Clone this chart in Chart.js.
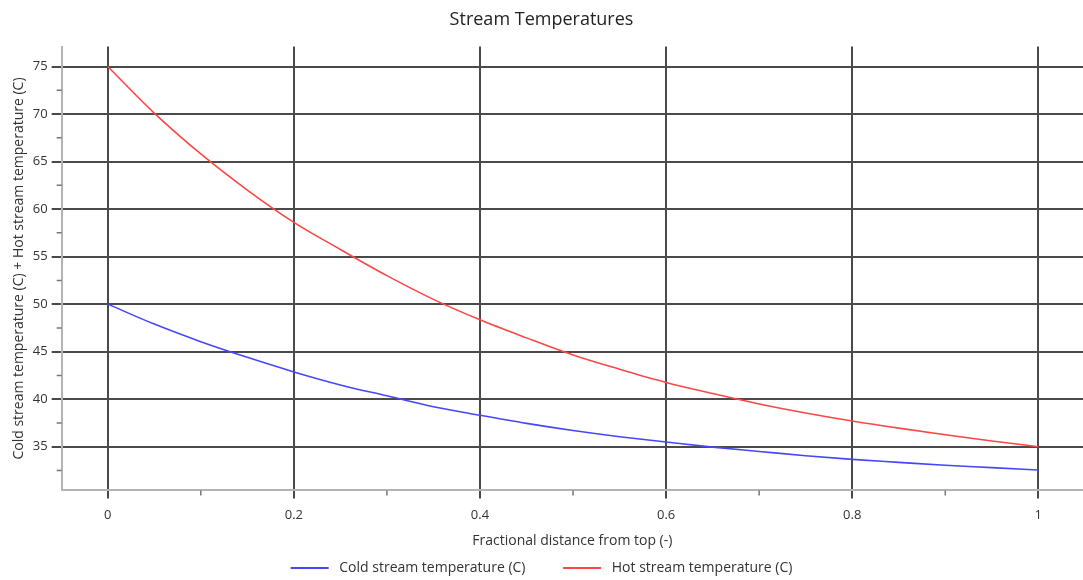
<!DOCTYPE html>
<html>
<head>
<meta charset="utf-8">
<script src="https://cdn.jsdelivr.net/npm/chart.js@4"></script>
<style>
  body { margin: 0; background: #fff; overflow: hidden; }
  #wrap { width: 1083px; height: 580px; }
  canvas { display: block; }
</style>
</head>
<body>
<div id="wrap"><canvas id="grafico"></canvas></div>
<script>
// posiciones (fracción desde arriba) y temperaturas
const fracPos = [0, 0.05, 0.1, 0.15, 0.2, 0.25, 0.3, 0.35, 0.4, 0.45, 0.5,
                 0.55, 0.6, 0.65, 0.7, 0.75, 0.8, 0.85, 0.9, 0.95, 1];
const coldTemp = [50, 47.9, 46.05, 44.4, 42.87, 41.5, 40.35, 39.2, 38.3, 37.45, 36.7,
                  36.05, 35.49, 34.95, 34.5, 34.05, 33.66, 33.35, 33.05, 32.8, 32.54];
const hotTemp = [75, 70.1, 65.8, 62.0, 58.6, 55.75, 53.0, 50.5, 48.35, 46.45, 44.65,
                 43.15, 41.76, 40.59, 39.5, 38.55, 37.7, 36.95, 36.25, 35.6, 35];

const seriesNames = ['Cold stream temperature (C)', 'Hot stream temperature (C)'];
const xMajorTicks = [0, 0.2, 0.4, 0.6, 0.8, 1];
const xMinorTicks = [0.1, 0.3, 0.5, 0.7, 0.9];
const yMajorTicks = [35, 40, 45, 50, 55, 60, 65, 70, 75];
const yMinorTicks = [32.5, 37.5, 42.5, 47.5, 52.5, 57.5, 62.5, 67.5, 72.5];

const FUENTE = "'Open Sans', 'Noto Sans', sans-serif";
const gridOscuro = '#4a4a4a';
const ejeClaro = '#b4b4b4';

function esMayor(lista, v) {
  return lista.some(t => Math.abs(t - v) < 1e-6);
}

// marcas menores (cortas) sobre los ejes
const marcasMenores = {
  id: 'marcasMenores',
  afterDraw(chart) {
    const c = chart.ctx;
    const sx = chart.scales.x, sy = chart.scales.y;
    c.save();
    c.strokeStyle = '#777';
    c.lineWidth = 1.5;
    c.beginPath();
    xMinorTicks.forEach(v => {
      const px = sx.getPixelForValue(v);
      c.moveTo(px, sx.top);
      c.lineTo(px, sx.top + 5);
    });
    yMinorTicks.forEach(v => {
      const py = sy.getPixelForValue(v);
      c.moveTo(sy.right - 5, py);
      c.lineTo(sy.right, py);
    });
    c.stroke();
    c.restore();
  }
};

const ctx = document.getElementById('grafico').getContext('2d');
new Chart(ctx, {
  type: 'line',
  data: {
    datasets: [{
      label: seriesNames[0],
      data: fracPos.map((x, i) => ({ x: x, y: coldTemp[i] })),
      borderColor: 'rgb(70,70,255)',
      backgroundColor: 'rgb(70,70,255)',
      borderWidth: 1.6,
      pointRadius: 0,
      cubicInterpolationMode: 'monotone'
    }, {
      label: seriesNames[1],
      data: fracPos.map((x, i) => ({ x: x, y: hotTemp[i] })),
      borderColor: 'rgb(255,70,70)',
      backgroundColor: 'rgb(255,70,70)',
      borderWidth: 1.6,
      pointRadius: 0,
      cubicInterpolationMode: 'monotone'
    }]
  },
  options: {
    responsive: true,
    maintainAspectRatio: false,
    animation: false,
    layout: { padding: { left: 0, right: 0, top: 0, bottom: -5 } },
    plugins: {
      title: {
        display: true,
        text: 'Stream Temperatures',
        color: '#222',
        font: { family: FUENTE, size: 18, weight: 'normal' },
        padding: { top: 9, bottom: 16 }
      },
      legend: {
        position: 'bottom',
        labels: {
          color: '#333',
          font: { family: FUENTE, size: 14 },
          boxWidth: 38,
          boxHeight: 2,
          padding: 6,
          generateLabels(chart) {
            // espacios para separar muestra, texto y elementos como en el original
            return Chart.defaults.plugins.legend.labels.generateLabels(chart)
              .map((l, i) => Object.assign(l, {
                lineWidth: 0,
                text: ' ' + l.text + (i === 0 ? '\u2003\u2003 ' : '')
              }));
          }
        }
      },
      tooltip: { enabled: false }
    },
    scales: {
      x: {
        type: 'linear',
        min: -0.0495,
        max: 1.048,
        afterBuildTicks(scale) {
          scale.ticks = [scale.min, ...xMajorTicks, scale.max].map(v => ({ value: v }));
        },
        ticks: {
          color: '#333',
          font: { family: FUENTE, size: 13, lineHeight: 2.6 },
          padding: 0,
          autoSkip: false,
          maxRotation: 0,
          callback: v => esMayor(xMajorTicks, v) ? String(Math.round(v * 10) / 10) : ''
        },
        grid: {
          color: c => esMayor(xMajorTicks, c.tick.value) ? gridOscuro : 'transparent',
          tickColor: c => esMayor(xMajorTicks, c.tick.value) ? gridOscuro : 'transparent',
          lineWidth: 2,
          tickLength: 8
        },
        border: { display: true, color: ejeClaro, width: 2 },
        title: {
          display: true,
          text: 'Fractional distance from top (-)',
          color: '#333',
          font: { family: FUENTE, size: 14 },
          padding: { top: 0, bottom: 6 }
        }
      },
      y: {
        type: 'linear',
        min: 30.4,
        max: 77.1,
        afterBuildTicks(scale) {
          scale.ticks = [scale.min, ...yMajorTicks, scale.max].map(v => ({ value: v }));
        },
        ticks: {
          color: '#333',
          font: { family: FUENTE, size: 13 },
          padding: 4,
          autoSkip: false,
          callback: v => esMayor(yMajorTicks, v) ? String(v) : ''
        },
        grid: {
          color: c => esMayor(yMajorTicks, c.tick.value) ? gridOscuro : 'transparent',
          tickColor: c => esMayor(yMajorTicks, c.tick.value) ? gridOscuro : 'transparent',
          lineWidth: 2,
          tickLength: 10
        },
        border: { display: true, color: ejeClaro, width: 2 },
        title: {
          display: true,
          text: 'Cold stream temperature (C) + Hot stream temperature (C)',
          color: '#333',
          font: { family: FUENTE, size: 14 },
          padding: { top: 10.5, bottom: 1.5 }
        }
      }
    }
  },
  plugins: [marcasMenores]
});
</script>
</body>
</html>
